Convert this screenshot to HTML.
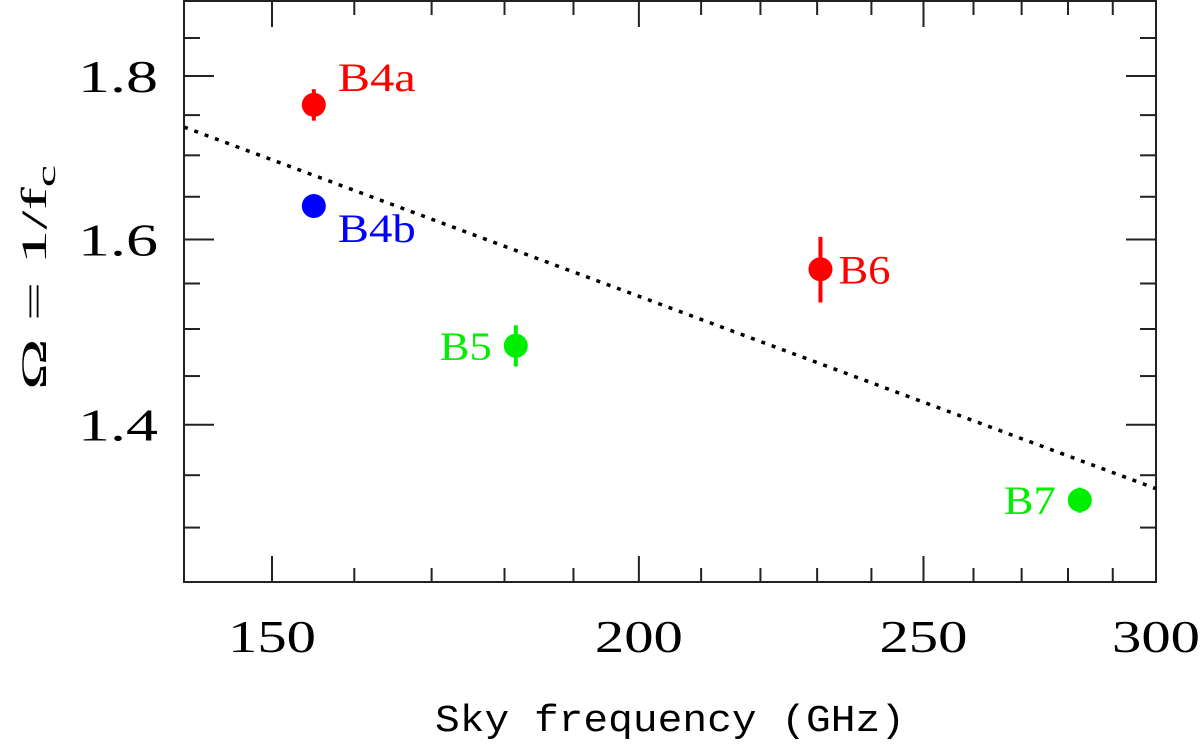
<!DOCTYPE html>
<html><head><meta charset="utf-8"><style>
html,body{margin:0;padding:0;background:#fff;}
svg{display:block;font-family:"Liberation Serif",serif;}
</style></head><body>
<svg id="chart" width="1200" height="744" viewBox="0 0 1200 744" xmlns="http://www.w3.org/2000/svg">
<g id="axes"></g>
<g id="marks"></g>
<text x="435" y="731" textLength="470" lengthAdjust="spacingAndGlyphs" font-family="Liberation Mono, monospace" font-size="38">Sky frequency (GHz)</text>
<text transform="translate(46,390) rotate(-90)" textLength="225" lengthAdjust="spacingAndGlyphs" font-size="36">Ω = 1/f<tspan font-size="26" dy="9">c</tspan></text>
</svg>
<script>
const bandNames = ["B4a","B4b","B5","B6","B7"];
const freqs = [155, 155, 181.6, 230.6, 282.6];
const omegas = [1.763, 1.639, 1.482, 1.566, 1.326];
const errs = [0.02, 0.012, 0.022, 0.037, 0.012];
const colors = ["#ff0000","#0000ff","#00ee00","#ff0000","#00ee00"];
const fitX = [140, 300];
const fitY = [1.735, 1.337];
const xMajor = [150, 200, 250, 300];
const xMinor = [160,170,180,190,210,220,230,240,260,270,280,290];
const yMajor = [1.4, 1.6, 1.8];
const yMinor = [1.3,1.35,1.45,1.5,1.55,1.65,1.7,1.75,1.85];

const L=184,R=1156,T=1,B=582;
const xmin=140,xmax=300,ymin=1.25,ymax=1.9;
function X(v){return L+(Math.log(v/xmin)/Math.log(xmax/xmin))*(R-L);}
function Y(v){return B-(Math.log(v/ymin)/Math.log(ymax/ymin))*(B-T);}
const NS="http://www.w3.org/2000/svg";
function mk(tag,attrs,parent){const e=document.createElementNS(NS,tag);for(const k in attrs)e.setAttribute(k,attrs[k]);parent.appendChild(e);return e;}
const ax=document.getElementById('axes'), mg=document.getElementById('marks');
let frame=mk('rect',{x:L,y:T,width:R-L,height:B-T,fill:'none',stroke:'#222','stroke-width':2},ax);


xMajor.forEach(v=>{const x=X(v);
 mk('line',{x1:x,x2:x,y1:B,y2:B-26,stroke:'#222','stroke-width':2},ax);
 mk('line',{x1:x,x2:x,y1:T,y2:T+26,stroke:'#222','stroke-width':2},ax);
 const t=mk('text',{x:x-44,y:652,textLength:88,lengthAdjust:'spacingAndGlyphs','font-size':46},ax);t.textContent=v;
 
 });
xMinor.forEach(v=>{const x=X(v);
 mk('line',{x1:x,x2:x,y1:B,y2:B-14,stroke:'#222','stroke-width':2},ax);
 mk('line',{x1:x,x2:x,y1:T,y2:T+14,stroke:'#222','stroke-width':2},ax);});
yMajor.forEach(v=>{const y=Y(v);
 mk('line',{x1:L,x2:L+30,y1:y,y2:y,stroke:'#222','stroke-width':2},ax);
 mk('line',{x1:R,x2:R-30,y1:y,y2:y,stroke:'#222','stroke-width':2},ax);
 const t=mk('text',{x:78,y:y+16,textLength:80,lengthAdjust:'spacingAndGlyphs','font-size':46},ax);t.textContent=v.toFixed(1);
 
 });
yMinor.forEach(v=>{const y=Y(v);
 mk('line',{x1:L,x2:L+16,y1:y,y2:y,stroke:'#222','stroke-width':2},ax);
 mk('line',{x1:R,x2:R-16,y1:y,y2:y,stroke:'#222','stroke-width':2},ax);});
let fit=mk('line',{x1:X(fitX[0]),y1:Y(fitY[0]),x2:X(fitX[1]),y2:Y(fitY[1]),stroke:'#000','stroke-width':3.5,'stroke-dasharray':'4 7'},mg);


const labelOff=[[24,-14,0],[24,36,0],[-24,14,1],[18,14,0],[-24,14,1]];
bandNames.forEach((n,i)=>{const x=X(freqs[i]),y=Y(omegas[i]);
 const g=mk('g',{},mg);
 
 
 mk('line',{x1:x,x2:x,y1:Y(omegas[i]+errs[i]),y2:Y(omegas[i]-errs[i]),stroke:colors[i],'stroke-width':4},g);
 mk('circle',{cx:x,cy:y,r:12,fill:colors[i]},g);
 const w=n.length===3?78:52;
 const tx=labelOff[i][2]?x+labelOff[i][0]-w:x+labelOff[i][0];
 const t=mk('text',{x:tx,y:y+labelOff[i][1],textLength:w,lengthAdjust:'spacingAndGlyphs','font-size':40,fill:colors[i]},g);t.textContent=n;
 
 });
</script>
</body></html>
